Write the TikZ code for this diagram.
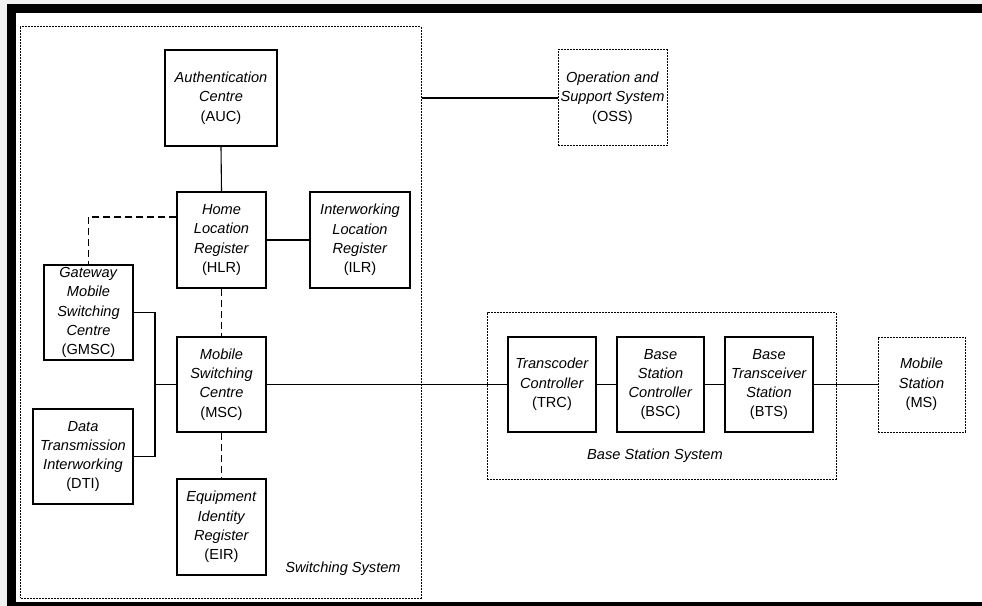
\documentclass[tikz,border=0pt]{standalone}
\usepackage{fontspec}
\setmainfont{Liberation Sans}
\begin{document}
\begin{tikzpicture}[x=1bp,y=-1bp,
  every node/.style={font=\fontsize{14.6bp}{19.3bp}\selectfont},
  box/.style={draw, line width=1.1bp, rectangle, align=center, inner sep=0pt},
  dotbox/.style={box, line width=1bp, dash pattern=on 2bp off 1bp},
  link/.style={line width=1.1bp},
  dlink/.style={line width=1.1bp, dash pattern=on 7bp off 4bp},
  lbl/.style={inner sep=0pt, font=\fontsize{14.6bp}{19.3bp}\selectfont\itshape}]
\useasboundingbox (0,0) rectangle (982,606);
% background and frame
\fill[white] (0,0) rectangle (982,606);
\fill[gray!12] (0,0) rectangle (982,4);
\fill[gray!12] (0,0) rectangle (7,606);
\fill[black] (7,4) rectangle (982,13);
\fill[black] (7,4) rectangle (16,606);
\fill[black] (7,602) rectangle (982,606);
% groups
\node[dotbox, minimum width=400bp, minimum height=571bp] (SS) at (221,312.5) {};
\node[dotbox, minimum width=349bp, minimum height=166bp] (BSS) at (661.5,396) {};
\node[lbl] (SSl) at (343,569) {Switching System};
\node[lbl] (BSSl) at (655,456) {Base Station System};
% boxes
\node[box, minimum width=112bp, minimum height=96bp] (AUC) at (221,98) {\textit{Authentication}\\\textit{Centre}\\(AUC)};
\node[box, minimum width=89bp, minimum height=96bp] (HLR) at (221.5,240) {\textit{Home}\\\textit{Location}\\\textit{Register}\\(HLR)};
\node[box, minimum width=100bp, minimum height=96bp] (ILR) at (360,240) {\textit{Interworking}\\\textit{Location}\\\textit{Register}\\(ILR)};
\node[box, minimum width=89bp, minimum height=95bp] (GMSC) at (88.5,312.5) {\textit{Gateway}\\\textit{Mobile}\\\textit{Switching}\\\textit{Centre}\\(GMSC)};
\node[box, minimum width=89bp, minimum height=95bp] (MSC) at (221.5,384.5) {\textit{Mobile}\\\textit{Switching}\\\textit{Centre}\\(MSC)};
\node[box, minimum width=100bp, minimum height=95bp] (DTI) at (83,456.5) {\textit{Data}\\\textit{Transmission}\\\textit{Interworking}\\(DTI)};
\node[box, minimum width=89bp, minimum height=96bp] (EIR) at (221.5,527) {\textit{Equipment}\\\textit{Identity}\\\textit{Register}\\(EIR)};
\node[dotbox, minimum width=109bp, minimum height=96bp] (OSS) at (612.5,98) {\textit{Operation and}\\\textit{Support System}\\(OSS)};
\node[box, minimum width=88bp, minimum height=95bp] (TRC) at (552,384.5) {\textit{Transcoder}\\\textit{Controller}\\(TRC)};
\node[box, minimum width=87bp, minimum height=95bp] (BSC) at (660.5,384.5) {\textit{Base}\\\textit{Station}\\\textit{Controller}\\(BSC)};
\node[box, minimum width=88bp, minimum height=95bp] (BTS) at (769,384.5) {\textit{Base}\\\textit{Transceiver}\\\textit{Station}\\(BTS)};
\node[dotbox, minimum width=87bp, minimum height=95bp] (MS) at (921.5,384.5) {\textit{Mobile}\\\textit{Station}\\(MS)};
% connectors
\coordinate (J) at (155,384.5);
\draw[link] (AUC.south) -- (HLR.north);
\draw[link] (HLR.east) -- (ILR.west);
\draw[dlink] ([yshift=23bp]HLR.west) -| (GMSC.north);
\draw[dlink] (HLR.south) -- (MSC.north);
\draw[dlink] (MSC.south) -- (EIR.north);
\draw[link] (GMSC.east) -| (J);
\draw[link] (DTI.east) -| (J);
\draw[link] (J) -- (MSC.west);
\draw[link] (MSC.east) -- (TRC.west);
\draw[link] (TRC.east) -- (BSC.west);
\draw[link] (BSC.east) -- (BTS.west);
\draw[link] (BTS.east) -- (MS.west);
\draw[link] (SS.east |- OSS.west) -- (OSS.west);
\end{tikzpicture}
\end{document}
